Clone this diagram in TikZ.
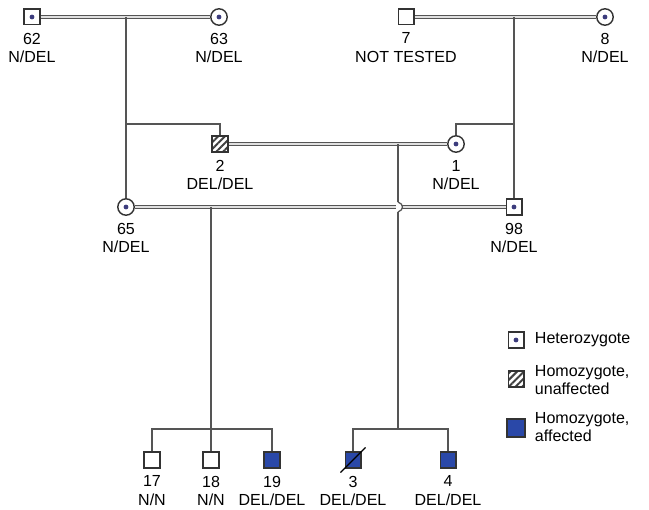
\documentclass[tikz,border=0pt]{standalone}
\usepackage{fontspec}
\setmainfont{Liberation Sans}
\usetikzlibrary{patterns.meta}
\definecolor{affblue}{RGB}{42,72,168}
\definecolor{dotblue}{RGB}{60,60,125}
\definecolor{pedline}{RGB}{85,85,85}

\begin{document}
\begin{tikzpicture}[x=0.025cm,y=-0.025cm,
    font=\fontsize{11.4}{13}\selectfont,
    male/.style={draw=black!80,line width=1pt,minimum size=0.39cm,inner sep=0pt,fill=white},
    female/.style={circle,draw=black!80,line width=1pt,minimum size=0.41cm,inner sep=0pt,fill=white},
    het/.style={path picture={\fill[dotblue] (path picture bounding box.center) circle (1.7pt);}},
    hatch/.style={pattern={Lines[angle=45,distance=3.4pt,line width=1.4pt]},pattern color=black!75},
    affected/.style={fill=affblue},
    marriage/.style={draw=pedline,line width=0.6pt,double=black!12,double distance=1.8pt},
    line/.style={draw=pedline,line width=0.9pt},
    tag/.style={align=center,inner sep=0pt,label distance=5pt}]
\useasboundingbox (0,0) rectangle (649,510);

% generation I
\node[male,het,label={[tag]below:62\\N/DEL}] (p62) at (32,17) {};
\node[female,het,label={[tag]below:63\\N/DEL}] (p63) at (219,17) {};
\node[male,label={[tag]below:7\\NOT TESTED}] (p7) at (406,17) {};
\node[female,het,label={[tag]below:8\\N/DEL}] (p8) at (605,17) {};

% generation II
\node[male,hatch,label={[tag]below:2\\DEL/DEL}] (p2) at (220,144) {};
\node[female,het,label={[tag]below:1\\N/DEL}] (p1) at (456,144) {};
\node[female,het,label={[tag]below:65\\N/DEL}] (p65) at (126,207) {};
\node[male,het,label={[tag]below:98\\N/DEL}] (p98) at (514,207) {};

% generation III
\node[male,label={[tag]below:17\\N/N}] (p17) at (152,460) {};
\node[male,label={[tag]below:18\\N/N}] (p18) at (211,460) {};
\node[male,affected,label={[tag]below:19\\DEL/DEL}] (p19) at (272,460) {};
\node[male,affected,label={[tag]below:3\\DEL/DEL}] (p3) at (353,460) {};
\node[male,affected,label={[tag]below:4\\DEL/DEL}] (p4) at (448,460) {};
\draw[line width=0.9pt] ([shift={(-4,4)}]p3.south west) -- ([shift={(4,-4)}]p3.north east);

% marriages
\draw[marriage] (p62) -- (p63);
\draw[marriage] (p7) -- (p8);
\draw[marriage] (p2) -- (p1);
\draw[marriage] (p65) -- (p98);

% descent
\draw[line] (p65 |- p62) -- (p65);
\draw[line] (p65 |- 0,124) -| (p2);
\draw[line] (p98 |- p7) -- (p98);
\draw[line] (p98 |- 0,124) -| (p1);

\coordinate (d21) at (398,144);
\draw[line] (d21) -- (398,202);
\fill[white] (396,203) rectangle (402,211);
\draw[line] (398,202) .. controls (404,204) and (404,210) .. (398,212);
\draw[line] (398,212) -- (398,429);
\draw[line] (p3) |- (d21 |- 0,429) -| (p4);

\draw[line] (p18 |- p65) -- (p18);
\draw[line] (p17) |- (p18 |- 0,429) -| (p19);

% legend
\node[male,het] (lhet) at (516,340) {};
\node[anchor=west] (thet) at (530,340) {Heterozygote};
\node[male,hatch] (lhom) at (516,379) {};
\node[anchor=west,align=left] (thom) at (530,380) {Homozygote,\\unaffected};
\node[male,affected,minimum size=0.45cm] (laff) at (516,428) {};
\node[anchor=west,align=left] (taff) at (530,427) {Homozygote,\\affected};
\end{tikzpicture}
\end{document}
